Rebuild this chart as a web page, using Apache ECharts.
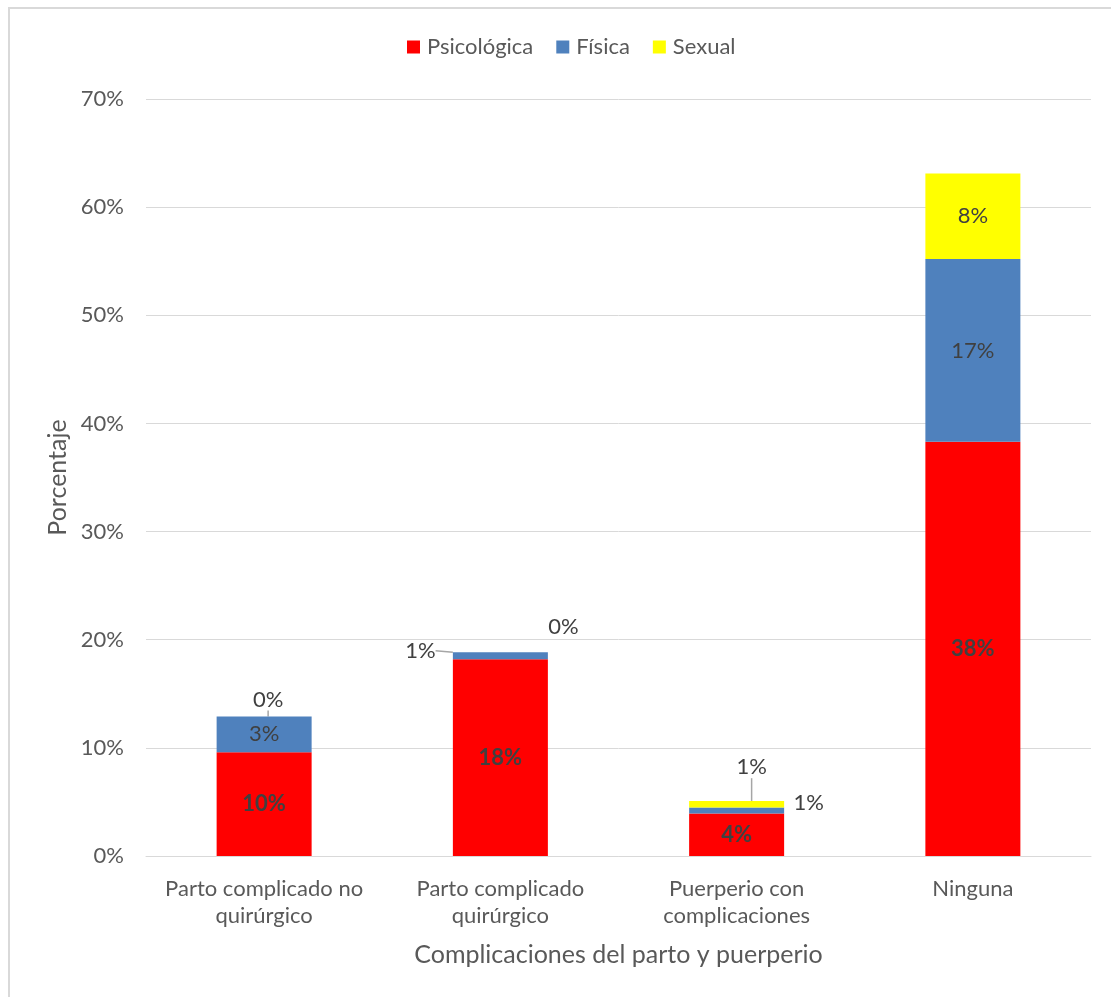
<!DOCTYPE html>
<html>
<head>
<meta charset="utf-8">
<script src="https://cdn.jsdelivr.net/npm/echarts@6/dist/echarts.min.js"></script>
<style>
html,body{margin:0;padding:0;background:#fff;overflow:hidden;}
#frame{position:absolute;left:8px;top:7px;width:1200px;height:1100px;border-top:2px solid #d9d9d9;border-left:2px solid #d9d9d9;}
#chart{position:absolute;left:0;top:0;width:1111px;height:997px;}
</style>
</head>
<body>
<div id="frame"></div>
<div id="chart"></div>
<script>
const categories = ['Parto complicado no\nquirúrgico', 'Parto complicado\nquirúrgico', 'Puerperio con\ncomplicaciones', 'Ninguna'];
const psicologica = [9.6, 18.2, 3.94, 38.3];
const fisica = [3.3, 0.65, 0.55, 16.9];
const sexual = [0, 0, 0.6, 7.9];
const yTicks = [0, 10, 20, 30, 40, 50, 60, 70];

// label moves for the small segments (label offsets only)
const moves = {
  '1-1': {dx: -80, dy: -5, line: true},
  '2-0': {dx: 4, dy: -17, line: true},
  '2-1': {dx: 63, dy: -25, line: false},
  '2-2': {dx: 15, dy: -37, line: true},
  '1-2': {dx: 72, dy: -8, line: false}
};

const FONT = 'Lato, "Open Sans", sans-serif';
const fmt = p => Math.round(p.value) + '%';

function mkData(arr, si) {
  return arr.map((v, i) => {
    const m = moves[si + '-' + i];
    if (m) return {value: v, labelLine: {show: m.line}};
    return v;
  });
}

const chart = echarts.init(document.getElementById('chart'));
const names = ['Psicológica', 'Física', 'Sexual'];
const colors = ['#ff0000', '#4f81bd', '#ffff00'];
const arrs = [psicologica, fisica, sexual];

chart.setOption({
  animation: false,
  textStyle: {fontFamily: FONT},
  legend: {
    top: 31, left: 402, itemWidth: 13, itemHeight: 13, itemGap: 23,
    icon: 'rect',
    textStyle: {fontSize: 22, color: '#595959', fontFamily: FONT, padding: [0, 0, 0, 2]},
    data: names
  },
  grid: {left: 146, right: 20, top: 99, bottom: 141, containLabel: false},
  xAxis: {
    type: 'category', data: categories,
    name: 'Complicaciones del parto y puerperio', nameLocation: 'middle', nameGap: 86,
    nameTextStyle: {fontSize: 25, color: '#595959', fontFamily: FONT},
    axisLine: {lineStyle: {color: '#d9d9d9', width: 1}},
    axisTick: {show: false},
    axisLabel: {fontSize: 22, color: '#595959', margin: 19, lineHeight: 27, interval: 0, fontFamily: FONT}
  },
  yAxis: {
    type: 'value', min: 0, max: 70, interval: 10,
    name: 'Porcentaje', nameLocation: 'middle', nameGap: 73,
    nameTextStyle: {fontSize: 25, color: '#595959', fontFamily: FONT},
    axisLine: {show: false}, axisTick: {show: false},
    axisLabel: {fontSize: 22, color: '#595959', margin: 22, formatter: v => yTicks.includes(v) ? v + '%' : '', fontFamily: FONT},
    splitLine: {lineStyle: {color: '#d9d9d9', width: 1}}
  },
  series: arrs.map((arr, si) => ({
    name: names[si], type: 'bar', stack: 'total', barWidth: 95,
    itemStyle: {color: colors[si]},
    data: mkData(arr, si),
    label: {
      show: true, position: 'inside', formatter: fmt,
      fontSize: 22, color: '#404040', fontWeight: si === 0 ? 'bold' : 'normal', fontFamily: FONT
    },
    labelLine: {show: true, lineStyle: {color: '#a6a6a6', width: 1.5}},
    labelLayout: function (p) {
      const m = moves[p.seriesIndex + '-' + p.dataIndex];
      if (m) return {dx: m.dx, dy: m.dy};
      return {};
    }
  }))
});
</script>
</body>
</html>
